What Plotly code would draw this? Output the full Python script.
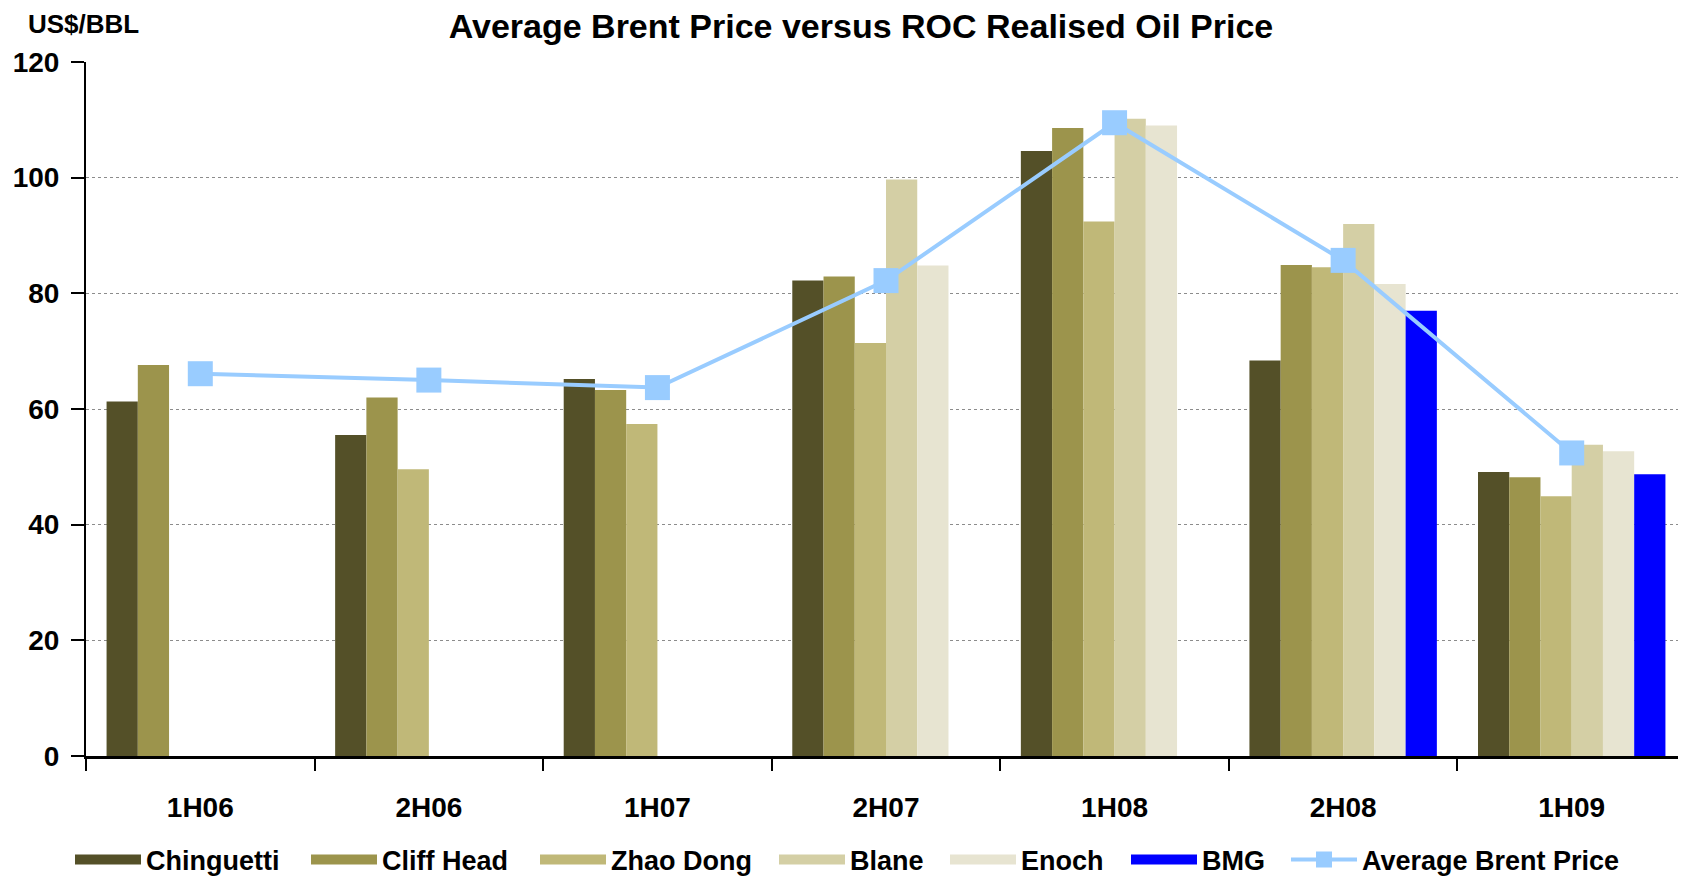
import plotly.graph_objects as go

periods = ["1H06", "2H06", "1H07", "2H07", "1H08", "2H08", "1H09"]
chinguetti = [61.3, 55.5, 65.2, 82.2, 104.6, 68.4, 49.1]
cliff_head = [67.6, 62.0, 63.3, 82.9, 108.6, 84.9, 48.2]
zhao_dong = [None, 49.6, 57.4, 71.4, 92.4, 84.5, 44.9]
blane = [None, None, None, 99.7, 110.2, 92.0, 53.8]
enoch = [None, None, None, 84.8, 109.0, 81.6, 52.7]
bmg = [None, None, None, None, None, 77.0, 48.7]
brent = [66.1, 65.0, 63.7, 82.2, 109.5, 85.7, 52.4]

series = [
    ("Chinguetti", chinguetti, "#545028"),
    ("Cliff Head", cliff_head, "#9C944C"),
    ("Zhao Dong", zhao_dong, "#C0B878"),
    ("Blane", blane, "#D4CFA5"),
    ("Enoch", enoch, "#E7E4D1"),
    ("BMG", bmg, "#0000FF"),
]

FONT = "Liberation Sans, Arial, sans-serif"

# page has an 8px body margin; compensate
W, H = 1678, 872
ML, MT, MR, MB = 78, 54, 0, 124
PW = W - ML - MR
PH = H - MT - MB

fig = go.Figure()
for name, vals, col in series:
    fig.add_trace(go.Bar(x=periods, y=vals, name=name, showlegend=False,
                         legendgroup=name, marker=dict(color=col, line=dict(width=0))))

fig.add_trace(go.Scatter(
    x=periods, y=brent, name="Average Brent Price", mode="lines+markers",
    showlegend=False, legendgroup="brent",
    line=dict(color="#99CCFF", width=4),
    marker=dict(symbol="square", size=25, color="#99CCFF"),
))

# legend keys (large swatches like the original), one legend per key
legend_names = ["legend", "legend2", "legend3", "legend4", "legend5", "legend6", "legend7"]
for i, (name, vals, col) in enumerate(series):
    fig.add_trace(go.Scatter(x=[None], y=[None], name=name, legendgroup=name,
                             legend=legend_names[i],
                             mode="lines", line=dict(color=col, width=24)))
fig.add_trace(go.Scatter(x=[None], y=[None], name="Average Brent Price",
                         legendgroup="brent", legend=legend_names[6],
                         mode="lines+markers",
                         line=dict(color="#99CCFF", width=4),
                         marker=dict(symbol="square", size=22, color="#99CCFF")))

legend_px = [70, 306, 535, 774, 945, 1126, 1286]
legend_y = 1 - (860 - 8 - MT) / PH
layout_legends = {}
for key, px in zip(legend_names, legend_px):
    layout_legends[key] = dict(
        orientation="h", x=(px - 8 - ML) / PW, xanchor="left",
        y=legend_y, yanchor="middle",
        font=dict(family=FONT, size=27, color="black", weight="bold"),
        itemwidth=66, bgcolor="rgba(0,0,0,0)")

fig.update_layout(
    width=W, height=H,
    margin=dict(l=ML, r=MR, t=MT, b=MB, autoexpand=False),
    paper_bgcolor="white", plot_bgcolor="white",
    barmode="group", bargap=0.18, bargroupgap=0,
    font=dict(family=FONT, color="black", size=26, weight="bold"),
    title=dict(text="Average Brent Price versus ROC Realised Oil Price",
               xref="container", x=(861 - 8) / W, xanchor="center",
               y=1 - 18 / H, yanchor="middle",
               font=dict(family=FONT, size=34, color="black", weight="bold")),
    showlegend=True,
    annotations=[dict(text="US$/BBL", xref="paper", yref="paper",
                      x=(26 - 8 - ML) / PW, xanchor="left",
                      y=1 + (62 - 24) / PH, yanchor="middle", showarrow=False,
                      font=dict(family=FONT, size=26, color="black", weight="bold"))],
    **layout_legends,
)

fig.update_yaxes(range=[0, 120], dtick=20, showgrid=True, gridcolor="#8c8c8c",
                 griddash="dot", gridwidth=1, showline=True, linecolor="black",
                 linewidth=2, ticks="outside", ticklen=13, tickwidth=2,
                 tickcolor="black", ticklabelstandoff=6, zeroline=False,
                 automargin=False,
                 tickfont=dict(family=FONT, size=28, color="black", weight="bold"))
fig.update_xaxes(showline=True, linecolor="black", linewidth=3, ticks="outside",
                 tickson="boundaries", ticklen=12, tickwidth=2, tickcolor="black",
                 ticklabelstandoff=24, showgrid=False, automargin=False,
                 tickfont=dict(family=FONT, size=28, color="black", weight="bold"))

fig.write_html("out.html")
